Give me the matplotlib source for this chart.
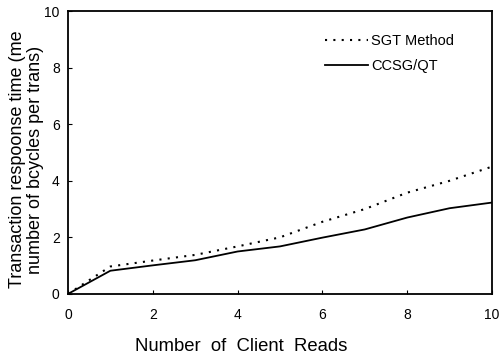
import numpy as np
import matplotlib.pyplot as plt

plt.rcParams['font.family'] = ['Liberation Sans', 'DejaVu Sans']

# data
reads = [0, 1, 2, 3, 4, 5, 6, 7, 8, 9, 10]
sgt = [0.0, 0.97, 1.18, 1.38, 1.68, 2.0, 2.55, 3.0, 3.58, 4.0, 4.5]
ccsg = [0.0, 0.82, 1.01, 1.19, 1.5, 1.68, 1.99, 2.28, 2.7, 3.03, 3.23]

def main():
    fig = plt.figure(figsize=(5.01, 3.58), dpi=100)
    ax = fig.add_axes([0.1357, 0.179, 0.8463, 0.79])
    #
    ax.plot(reads, sgt, color='black', lw=1.5, linestyle=(0, (1, 3)), label='SGT Method')
    ax.plot(reads, ccsg, color='black', lw=1.3, linestyle='-', label='CCSG/QT')
    #
    ax.set_xlim([0, 10])
    ax.set_ylim([0, 10])
    ax.set_xticks([0, 2, 4, 6, 8, 10])
    ax.set_yticks([0, 2, 4, 6, 8, 10])
    ax.tick_params(direction='in', length=3, width=0.8, labelsize=10, pad=10)
    ax.tick_params(axis='y', pad=6)
    for s in ax.spines.values():
        s.set_linewidth(1.3)
    #
    ax.set_xlabel('Number  of  Client  Reads', fontsize=13.3)
    ax.xaxis.set_label_coords(0.408, -0.155)
    ax.set_ylabel('Transaction respoonse time (me\nnumber of bcycles per trans)', fontsize=13,
                  linespacing=1.05)
    ax.yaxis.set_label_coords(-0.057, 0.475)
    #
    ax.legend(loc='upper right', bbox_to_anchor=(0.942, 0.965), frameon=False, fontsize=10.5,
              handlelength=3.0, handletextpad=0.2, labelspacing=0.75)
    #
    fig.savefig('out.png', dpi=100)
    plt.close()

if __name__ == "__main__":
    main()
